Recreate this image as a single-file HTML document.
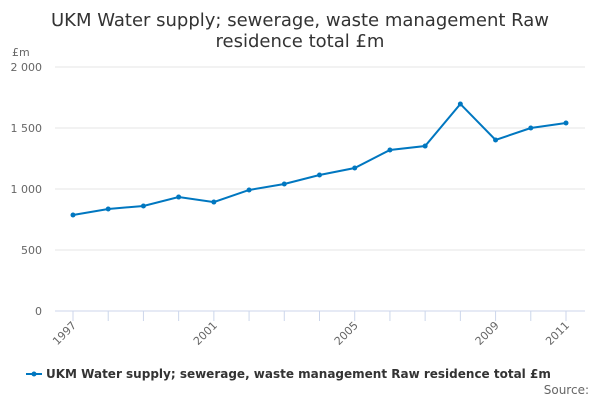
<!DOCTYPE html>
<html><head><meta charset="utf-8"><style>
body{margin:0;background:#fff;font-family:"DejaVu Sans","Liberation Sans",sans-serif;}
svg text{font-family:"DejaVu Sans","Liberation Sans",sans-serif;}
</style></head><body>
<svg id="chart" width="600" height="400" xmlns="http://www.w3.org/2000/svg">
<text x="300" y="26" text-anchor="middle" font-size="18" fill="#333">UKM Water supply; sewerage, waste management Raw</text>
<text x="300" y="47" text-anchor="middle" font-size="18" fill="#333">residence total £m</text>
<text x="12" y="56" font-size="11" fill="#666">£m</text>
<g id="grid"></g><g id="xaxis"></g><g id="series"></g>
<g>
<line x1="26" y1="374" x2="42" y2="374" stroke="#0077c0" stroke-width="2"/>
<circle cx="34" cy="374" r="2.5" fill="#0077c0"/>
<text x="46" y="378" font-size="12" font-weight="bold" fill="#333">UKM Water supply; sewerage, waste management Raw residence total £m</text>
</g>
<text x="589" y="394" text-anchor="end" font-size="12" fill="#666">Source:</text>
</svg>
<script>
const years=[1997,1998,1999,2000,2001,2002,2003,2004,2005,2006,2007,2008,2009,2010,2011];
const values=[787,836,861,934,893,992,1041,1115,1172,1320,1352,1697,1402,1500,1541];
const yTicks=[0,500,1000,1500,2000];
const yTickLabels=["0","500","1 000","1 500","2 000"];
const xTickYears=[1997,2001,2005,2009,2011];
const NS="http://www.w3.org/2000/svg";
const x=v=>73+(v-1997)*(566-73)/14;
const y=v=>311-v*(311-67)/2000;
function mk(tag,attrs,parent){const e=document.createElementNS(NS,tag);for(const k in attrs)e.setAttribute(k,attrs[k]);parent.appendChild(e);return e;}
const grid=document.getElementById('grid');
yTicks.forEach((t,i)=>{
 const l=mk('line',{x1:55,x2:585,y1:y(t),y2:y(t),stroke:t===0?'#ccd6eb':'#e6e6e6','stroke-width':1},grid);
 
 
 const tx=mk('text',{x:42,y:y(t)+4,'text-anchor':'end','font-size':11,fill:'#666'},grid);
 tx.textContent=yTickLabels[i];
 
 
});
const xa=document.getElementById('xaxis');
years.forEach(yr=>{
 const t=mk('line',{x1:x(yr),x2:x(yr),y1:311,y2:321,stroke:'#ccd6eb'},xa);
 
 
});
xTickYears.forEach(yr=>{
 const tx=mk('text',{x:x(yr)+4,y:326,'text-anchor':'end','font-size':11,fill:'#666',transform:`rotate(-45 ${x(yr)+4} 326)`},xa);
 tx.textContent=yr;
 
 
});
const s=document.getElementById('series');
const p=mk('polyline',{points:years.map((yr,i)=>x(yr)+','+y(values[i])).join(' '),fill:'none',stroke:'#0077c0','stroke-width':2},s);


years.forEach((yr,i)=>{
 const c=mk('circle',{cx:x(yr),cy:y(values[i]),r:2.5,fill:'#0077c0'},s);
 
 
});
</script>
</body></html>
